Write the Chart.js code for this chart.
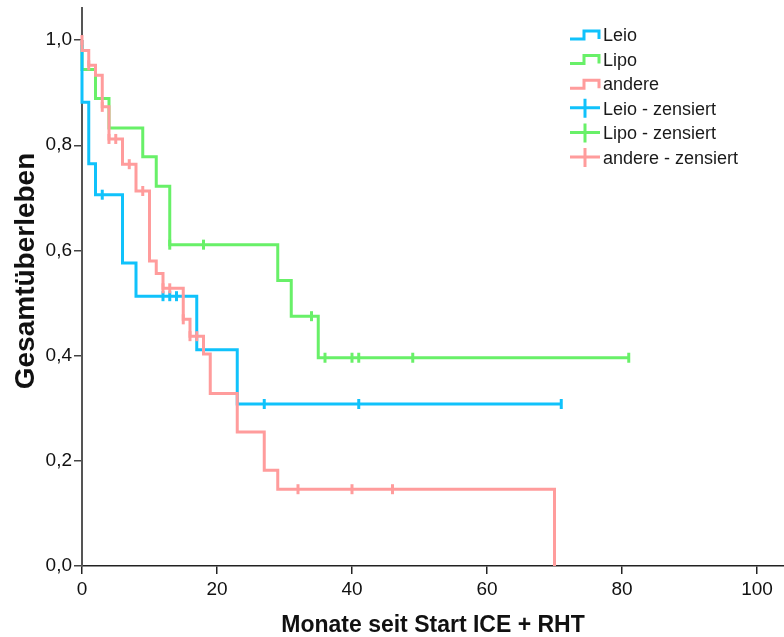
<!DOCTYPE html>
<html>
<head>
<meta charset="utf-8">
<script src="https://cdn.jsdelivr.net/npm/chart.js@4/dist/chart.umd.min.js"></script>
<style>
  body { margin: 0; background: #fff; overflow: hidden; }
  #wrap { width: 784px; height: 637px; }
  canvas { display: block; }
</style>
</head>
<body>
<div id="wrap"><canvas id="kmChart"></canvas></div>
<script>
// Achsen
const xTicks = [0, 20, 40, 60, 80, 100];
const yTicks = [0, 0.2, 0.4, 0.6, 0.8, 1.0];

// Kaplan-Meier Stufen (Monate, Überleben)
const leioTimes = [0, 0, 1, 2, 6, 8, 17, 23, 71];
const leioSurv = [1, 0.882, 0.765, 0.706, 0.576, 0.513, 0.411, 0.308, 0.308];
const lipoTimes = [0, 0, 2, 4, 9, 11, 13, 29, 31, 35, 81];
const lipoSurv = [1, 0.944, 0.889, 0.833, 0.778, 0.722, 0.611, 0.543, 0.475, 0.396, 0.396];
const andereTimes = [0, 0, 1, 2, 3, 4, 6, 8, 10, 11, 12, 15, 16, 18, 19, 23, 27, 29, 70, 70];
const andereSurv = [1, 0.98, 0.952, 0.933, 0.873, 0.812, 0.764, 0.713, 0.58, 0.556, 0.528,
  0.469, 0.437, 0.403, 0.328, 0.255, 0.182, 0.146, 0.146, 0];

// zensierte Fälle
const leioCensTimes = [3, 12, 13, 14, 27, 41, 71];
const leioCensSurv = [0.706, 0.513, 0.513, 0.513, 0.308, 0.308, 0.308];
const lipoCensTimes = [13, 18, 34, 36, 40, 41, 49, 81];
const lipoCensSurv = [0.611, 0.611, 0.475, 0.396, 0.396, 0.396, 0.396, 0.396];
const andereCensTimes = [0, 1, 3, 4, 5, 7, 9, 12, 13, 15, 16, 17, 32, 40, 46];
const andereCensSurv = [1, 0.952, 0.873, 0.812, 0.812, 0.764, 0.713, 0.528, 0.528, 0.469,
  0.437, 0.437, 0.146, 0.146, 0.146];

const legendLabels = ["Leio", "Lipo", "andere", "Leio - zensiert", "Lipo - zensiert", "andere - zensiert"];
const yTitle = "Gesamtüberleben";
const xTitle = "Monate seit Start ICE + RHT";
const colors = ["#10C2FB", "#68F068", "#FF9C9C"];

const toPoints = (xs, ys) => xs.map((x, i) => ({ x: x, y: ys[i] }));

function stepSet(xs, ys, color, order) {
  return {
    data: toPoints(xs, ys),
    borderColor: color,
    borderWidth: 3,
    stepped: true,
    pointRadius: 0,
    fill: false,
    clip: 6,
    order: order,
  };
}

function censSet(xs, ys, color, order) {
  return {
    data: toPoints(xs, ys),
    showLine: false,
    pointStyle: "line",
    rotation: 90,
    pointRadius: 5,
    borderColor: color,
    backgroundColor: color,
    pointBorderWidth: 3,
    clip: 8,
    order: order,
  };
}

// Legende wie im SPSS-Plot + y-Titel
const kmLegend = {
  id: "kmLegend",
  afterDraw(chart) {
    const ctx = chart.ctx;
    ctx.save();
    ctx.font = "18px 'Liberation Sans', Arial, sans-serif";
    ctx.textBaseline = "middle";
    ctx.fillStyle = "#1a1a1a";
    legendLabels.forEach((label, i) => {
      const cy = 36 + i * 24.6;
      const c = colors[i % 3];
      ctx.strokeStyle = c;
      ctx.lineWidth = 3;
      ctx.beginPath();
      if (i < 3) {
        ctx.moveTo(570, cy + 3);
        ctx.lineTo(584, cy + 3);
        ctx.lineTo(584, cy - 5);
        ctx.lineTo(599, cy - 5);
        ctx.lineTo(599, cy + 3);
      } else {
        ctx.moveTo(570, cy - 2);
        ctx.lineTo(600, cy - 2);
        ctx.moveTo(585, cy - 11);
        ctx.lineTo(585, cy + 8);
      }
      ctx.stroke();
      ctx.fillText(label, 603, cy);
    });

    ctx.translate(26, 271);
    ctx.rotate(-Math.PI / 2);
    ctx.font = "bold 28px 'Liberation Sans', Arial, sans-serif";
    ctx.textAlign = "center";
    ctx.fillStyle = "#111";
    ctx.fillText(yTitle, 0, 0);
    ctx.restore();
  },
};

new Chart(document.getElementById("kmChart"), {
  type: "line",
  data: {
    datasets: [
      stepSet(leioTimes, leioSurv, colors[0], 3),
      stepSet(lipoTimes, lipoSurv, colors[1], 4),
      stepSet(andereTimes, andereSurv, colors[2], 2),
      censSet(leioCensTimes, leioCensSurv, colors[0], 1),
      censSet(lipoCensTimes, lipoCensSurv, colors[1], 1),
      censSet(andereCensTimes, andereCensSurv, colors[2], 0),
    ],
  },
  options: {
    responsive: true,
    maintainAspectRatio: false,
    animation: false,
    devicePixelRatio: 1,
    layout: { autoPadding: false, padding: { top: 8, right: 0, left: 0, bottom: 0 } },
    plugins: { legend: { display: false }, tooltip: { enabled: false } },
    scales: {
      x: {
        type: "linear",
        min: 0,
        max: 104,
        afterFit: (s) => { s.height = 71; s.paddingLeft = 0; s.paddingRight = 0; },
        afterBuildTicks: (s) => { s.ticks = xTicks.map((v) => ({ value: v })); },
        ticks: {
          color: "#111",
          padding: 4,
          maxRotation: 0,
          font: { family: "'Liberation Sans', Arial", size: 19 },
        },
        grid: { drawOnChartArea: false, drawTicks: true, tickLength: 8, color: "#222", lineWidth: 1.5 },
        border: { display: true, color: "#222", width: 1.5 },
        title: {
          display: true,
          text: xTitle,
          color: "#111",
          padding: { top: 0, bottom: 0 },
          font: { family: "'Liberation Sans', Arial", size: 23, weight: "bold", lineHeight: 1 },
        },
      },
      y: {
        type: "linear",
        min: 0,
        max: 1.061,
        afterFit: (s) => { s.width = 82; s.paddingTop = 0; s.paddingBottom = 0; },
        afterBuildTicks: (s) => { s.ticks = yTicks.map((v) => ({ value: v })); },
        ticks: {
          color: "#111",
          padding: 2,
          font: { family: "'Liberation Sans', Arial", size: 19 },
          callback: (v) => v.toFixed(1).replace(".", ","),
        },
        grid: { drawOnChartArea: false, drawTicks: true, tickLength: 8, color: "#444", lineWidth: 1.5 },
        border: { display: true, color: "#555", width: 2 },
      },
    },
  },
  plugins: [kmLegend],
});
</script>
</body>
</html>
